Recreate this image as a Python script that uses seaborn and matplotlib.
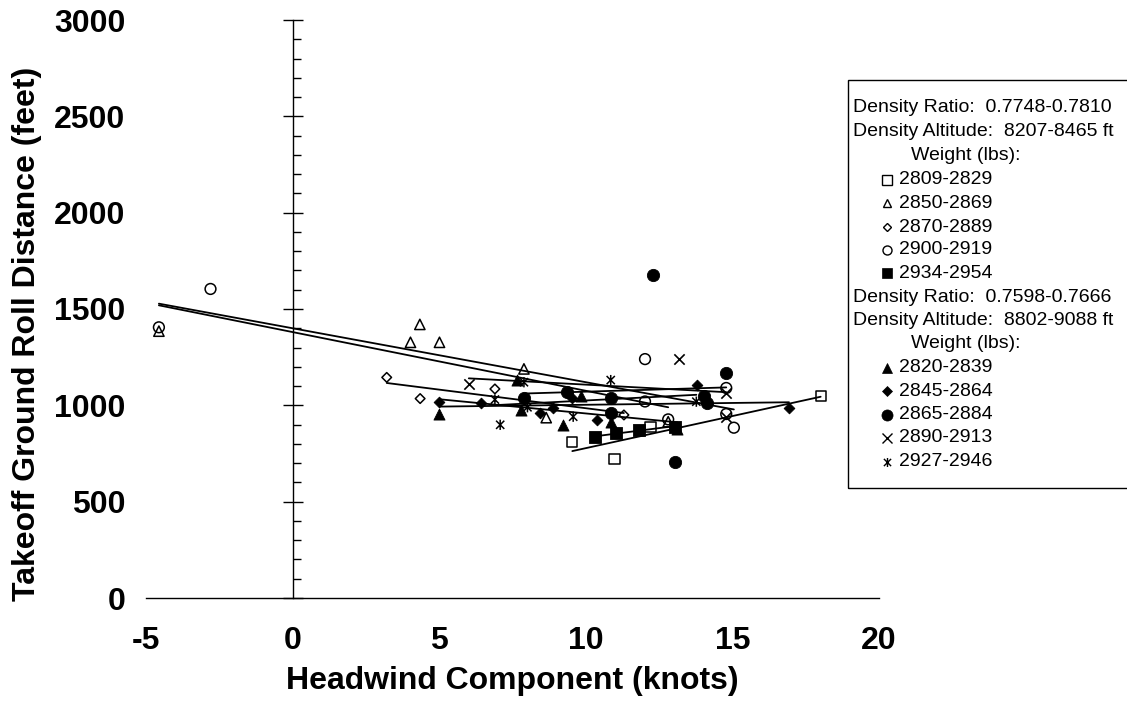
import numpy as np
import pandas as pd
import matplotlib
matplotlib.use("Agg")
import matplotlib.pyplot as plt
import seaborn as sns
from matplotlib.path import Path
from matplotlib.lines import Line2D
from matplotlib.patches import Rectangle
from matplotlib.ticker import MultipleLocator

# ---------------- data (headwind knots, ground roll feet) ----------------
# Density Ratio 0.7748-0.7810 (open markers)
w2809_x = [9.54, 10.98, 12.21, 18.01]
w2809_y = [811, 721, 889, 1048]
w2850_x = [-4.56, 4.02, 4.34, 5.01, 7.89, 8.65, 12.81]
w2850_y = [1385, 1327, 1420, 1327, 1189, 936, 915]
w2870_x = [3.21, 4.35, 6.90, 11.30]
w2870_y = [1145, 1035, 1085, 950]
w2900_x = [-4.56, -2.80, 12.02, 12.02, 12.81, 14.79, 14.79, 15.05]
w2900_y = [1405, 1604, 1240, 1020, 927, 1090, 955, 884]
w2934_x = [10.33, 11.02, 11.80, 13.04]
w2934_y = [834, 858, 872, 889]
# Density Ratio 0.7598-0.7666 (filled / line markers)
w2820_x = [5.01, 7.66, 7.80, 9.22, 9.85, 10.85, 13.12]
w2820_y = [955, 1131, 976, 898, 1048, 915, 878]
w2845_x = [5.01, 6.42, 8.44, 8.89, 9.54, 10.39, 13.80, 16.93]
w2845_y = [1019, 1010, 959, 985, 1036, 924, 1104, 985]
w2865_x = [7.89, 9.37, 10.85, 10.85, 12.28, 13.03, 14.03, 14.12, 14.79]
w2865_y = [1039, 1071, 1036, 960, 1676, 706, 1050, 1012, 1168]
w2890_x = [6.01, 13.18, 14.79, 14.79]
w2890_y = [1111, 1240, 1066, 941]
w2927_x = [6.90, 7.08, 7.89, 8.01, 9.57, 10.85, 13.77]
w2927_y = [1030, 899, 1120, 990, 941, 1131, 1019]

group1_labels = ["2809-2829", "2850-2869", "2870-2889", "2900-2919", "2934-2954"]
group2_labels = ["2820-2839", "2845-2864", "2865-2884", "2890-2913", "2927-2946"]
group1_header = ["Density Ratio:  0.7748-0.7810", "Density Altitude:  8207-8465 ft", "Weight (lbs):"]
group2_header = ["Density Ratio:  0.7598-0.7666", "Density Altitude:  8802-9088 ft", "Weight (lbs):"]

x_ticks = [-5, 0, 5, 10, 15, 20]
y_ticks = [0, 500, 1000, 1500, 2000, 2500, 3000]

# ---------------- style ----------------
sns.set_style("white")
plt.rcParams["font.family"] = ["Liberation Sans", "DejaVu Sans"]
plt.rcParams["text.color"] = "black"
plt.rcParams["axes.labelcolor"] = "black"
plt.rcParams["xtick.color"] = "black"
plt.rcParams["ytick.color"] = "black"
plt.rcParams["xtick.labelcolor"] = "black"
plt.rcParams["ytick.labelcolor"] = "black"

ast = Path([(-1, -1), (1, 1), (-1, 1), (1, -1), (0, -1.25), (0, 1.25)],
           [Path.MOVETO, Path.LINETO] * 3)

# (x, y, marker, size, filled, legend marker size)
series = [
    (w2809_x, w2809_y, "s", 55, False, 6.5),
    (w2850_x, w2850_y, "^", 55, False, 6.0),
    (w2870_x, w2870_y, "D", 24, False, 4.5),
    (w2900_x, w2900_y, "o", 60, False, 6.5),
    (w2934_x, w2934_y, "s", 66, True, 7.0),
    (w2820_x, w2820_y, "^", 64, True, 7.0),
    (w2845_x, w2845_y, "D", 30, True, 5.0),
    (w2865_x, w2865_y, "o", 78, True, 8.0),
    (w2890_x, w2890_y, "x", 55, "line", 6.5),
    (w2927_x, w2927_y, ast, 55, False, 6.5),
]

fig = plt.figure(figsize=(11.27, 7.08), dpi=100)
ax = fig.add_axes([146 / 1127, 110 / 708, 733 / 1127, 578 / 708])

for xs, ys, m, s, filled, _ in series:
    sns.regplot(x=np.array(xs), y=np.array(ys), ax=ax, scatter=False, ci=None,
                truncate=True, color="black", line_kws=dict(lw=1.3, zorder=2))
    if filled == "line":
        sns.scatterplot(x=xs, y=ys, ax=ax, marker=m, s=s, color="black",
                        linewidth=1.2, zorder=3, legend=False)
    elif filled:
        sns.scatterplot(x=xs, y=ys, ax=ax, marker=m, s=s, color="black",
                        edgecolor="black", linewidth=0.6, zorder=3, legend=False)
    else:
        sns.scatterplot(x=xs, y=ys, ax=ax, marker=m, s=s, color="black",
                        facecolor="none", edgecolor="black", linewidth=1.1,
                        zorder=3, legend=False)

ax.set_xlim(-5, 20)
ax.set_ylim(0, 3000)
for sp in ["top", "right", "left"]:
    ax.spines[sp].set_visible(False)
ax.spines["bottom"].set_color("black")
ax.spines["bottom"].set_linewidth(1.0)

ax.set_xticks(x_ticks)
ax.set_xticklabels([str(t) for t in x_ticks], fontsize=23, fontweight="bold",
                   color="black")
ax.xaxis.set_minor_locator(MultipleLocator(1))
ax.tick_params(axis="x", which="major", direction="inout", length=15, width=1.0,
               pad=13, color="black")
ax.tick_params(axis="x", which="minor", direction="in", length=5.5, width=1.0,
               color="black")

ax.set_yticks(y_ticks)
ax.set_yticklabels([str(t) for t in y_ticks], fontsize=23, fontweight="bold",
                   color="black")
ax.tick_params(axis="y", which="both", length=0, pad=15)

sec = ax.secondary_yaxis(0.2)
sec.yaxis.set_major_locator(MultipleLocator(500))
sec.yaxis.set_minor_locator(MultipleLocator(100))
sec.tick_params(axis="y", which="major", direction="inout", length=15, width=1.0,
                labelleft=False, color="black")
sec.tick_params(axis="y", which="minor", direction="in", length=5.5, width=1.0,
                color="black")
sec.spines["left"].set_linewidth(1.0)
sec.spines["left"].set_color("black")

ax.set_xlabel("Headwind Component (knots)", fontsize=23, fontweight="bold",
              color="black")
ax.set_ylabel("Takeoff Ground Roll Distance (feet)", fontsize=23,
              fontweight="bold", color="black")
ax.xaxis.set_label_coords(0.5, (598 - 666) / 578)
ax.yaxis.set_label_coords((42 - 146) / 733, (598 - 334) / 578)

# ---------------- legend box ----------------
def fx(px):
    return px / 1127

def fy(py):
    return 1 - py / 708

fig.add_artist(Rectangle((fx(848), fy(488)), fx(1140) - fx(848), fy(80) - fy(488),
                         transform=fig.transFigure, fill=False, lw=1.0,
                         ec="black", clip_on=False))

rows = [108, 132, 156, 180, 203, 227, 250, 273,
        297, 320, 344, 368, 391, 415, 438, 462]
fs = 14
texts = []
texts += [(group1_header[0], 853), (group1_header[1], 853), (group1_header[2], 911)]
texts += [(lab, 899) for lab in group1_labels]
texts += [(group2_header[0], 853), (group2_header[1], 853), (group2_header[2], 911)]
texts += [(lab, 899) for lab in group2_labels]
for (t, px), py in zip(texts, rows):
    fig.text(fx(px), fy(py), t, fontsize=fs, ha="left", va="center", color="black")

marker_rows = rows[3:8] + rows[11:16]
for (xs, ys, m, s, filled, lms), py in zip(series, marker_rows):
    if filled == "line":
        kw = dict(color="black", markeredgewidth=1.0)
    elif filled:
        kw = dict(color="black", markerfacecolor="black", markeredgewidth=0.5)
    else:
        kw = dict(color="black", markerfacecolor="none", markeredgewidth=1.0)
    fig.add_artist(Line2D([fx(887)], [fy(py)], marker=m, markersize=lms,
                          linestyle="none", transform=fig.transFigure, **kw))

fig.savefig("out.png", dpi=100)
